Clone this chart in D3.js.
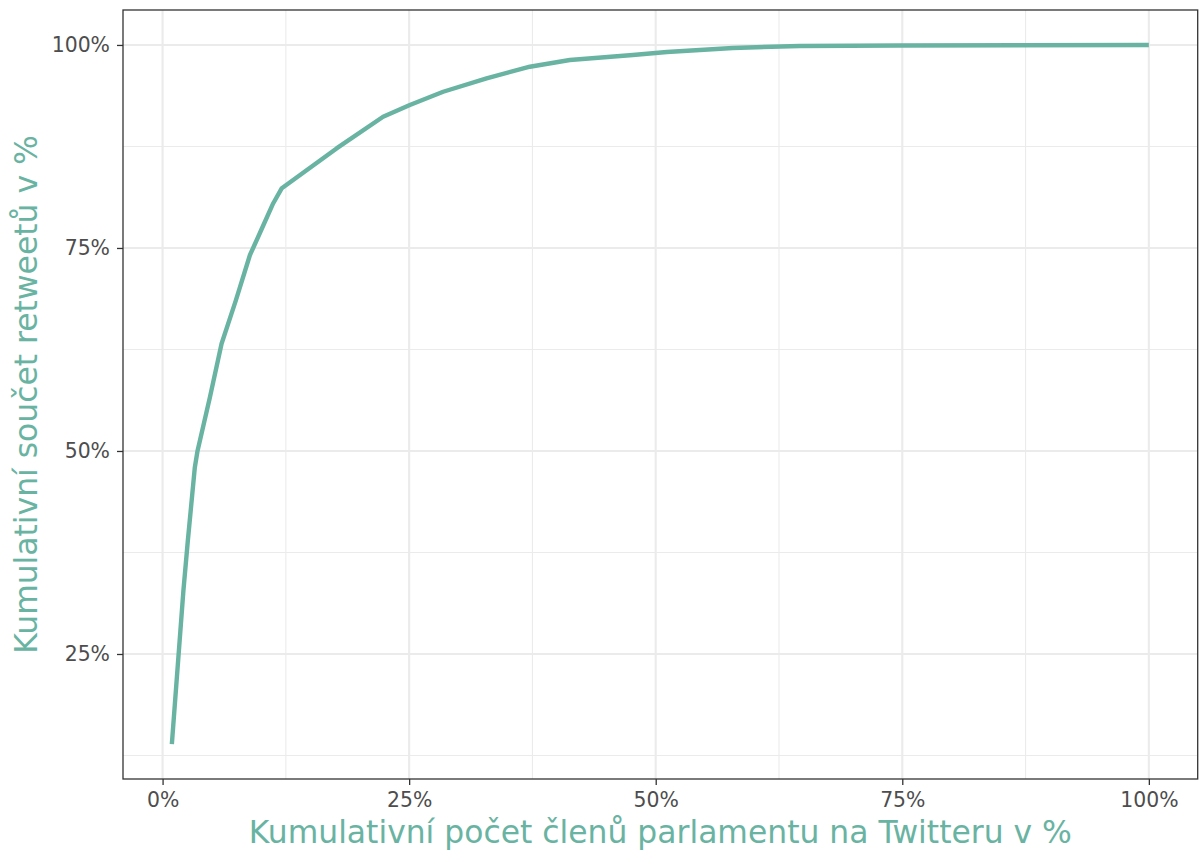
<!DOCTYPE html>
<html>
<head>
<meta charset="utf-8">
<script src="https://cdn.jsdelivr.net/npm/d3@7"></script>
<style>
  body { margin: 0; background: #fff; }
  svg { display: block; font-family: "DejaVu Sans", sans-serif; }
</style>
</head>
<body>
<div id="chart"></div>
<script>
// cumulative share of MPs (x, %) vs cumulative share of retweets (y, %)
const memberPct = [0.94, 2.11, 2.56, 3.27, 3.53, 4.80, 5.98, 7.43, 8.85, 10.07, 11.21, 12.09,
  17.64, 22.36, 25.07, 28.45, 32.85, 37.24, 41.29, 47.68, 51.13, 57.82, 64.60, 74.74, 100]
const retweetPct = [13.91, 32.78, 38.95, 47.99, 49.93, 56.62, 63.21, 68.55, 74.10, 77.40, 80.48, 82.36,
  87.26, 91.16, 92.60, 94.24, 95.89, 97.32, 98.15, 98.77, 99.14, 99.63, 99.88, 99.94, 100]

const xTicks = [0, 25, 50, 75, 100]
const yTicks = [25, 50, 75, 100]
const xMinor = [12.5, 37.5, 62.5, 87.5]
const yMinor = [12.5, 37.5, 62.5, 87.5]

const xTitle = "Kumulativní počet členů parlamentu na Twitteru v %"
const yTitle = "Kumulativní součet retweetů v %"

const data = memberPct.map((x, i) => ({ x: x, y: retweetPct[i] }))

const width = 1203
const height = 855
const margin = { top: 10, right: 5.3, bottom: 76, left: 123 }
const w = width - margin.left - margin.right
const h = height - margin.top - margin.bottom
const color = "#69b3a2"

// ggplot style 5% expansion
function expand(ext) {
  const pad = (ext[1] - ext[0]) * 0.05
  return [ext[0] - pad, ext[1] + pad]
}

const svg = d3.select("#chart").append("svg")
  .attr("width", width)
  .attr("height", height)

const g = svg.append("g")
  .attr("transform", "translate(" + margin.left + "," + margin.top + ")")

const x = d3.scaleLinear().domain(expand(d3.extent(data, d => d.x))).range([0, w])
const y = d3.scaleLinear().domain(expand(d3.extent(data, d => d.y))).range([h, 0])

// grid
g.append("g").selectAll("line").data(xMinor).join("line")
  .attr("x1", d => x(d)).attr("x2", d => x(d)).attr("y1", 0).attr("y2", h)
  .attr("stroke", "#ebebeb").attr("stroke-width", 1.1)
g.append("g").selectAll("line").data(yMinor).join("line")
  .attr("y1", d => y(d)).attr("y2", d => y(d)).attr("x1", 0).attr("x2", w)
  .attr("stroke", "#ebebeb").attr("stroke-width", 1.1)
g.append("g").selectAll("line").data(xTicks).join("line")
  .attr("x1", d => x(d)).attr("x2", d => x(d)).attr("y1", 0).attr("y2", h)
  .attr("stroke", "#ebebeb").attr("stroke-width", 2.1)
g.append("g").selectAll("line").data(yTicks).join("line")
  .attr("y1", d => y(d)).attr("y2", d => y(d)).attr("x1", 0).attr("x2", w)
  .attr("stroke", "#ebebeb").attr("stroke-width", 2.1)

// the curve
g.append("path")
  .datum(data)
  .attr("fill", "none")
  .attr("stroke", color)
  .attr("stroke-width", 4.4)
  .attr("stroke-linecap", "butt")
  .attr("stroke-linejoin", "round")
  .attr("d", d3.line().x(d => x(d.x)).y(d => y(d.y)))

// panel border
g.append("rect")
  .attr("width", w).attr("height", h)
  .attr("fill", "none").attr("stroke", "#333333").attr("stroke-width", 1.3)

// axes
const xAxis = g.append("g")
  .attr("transform", "translate(0," + h + ")")
  .call(d3.axisBottom(x).tickValues(xTicks).tickFormat(d => d + "%").tickSize(6).tickPadding(8))
const yAxis = g.append("g")
  .call(d3.axisLeft(y).tickValues(yTicks).tickFormat(d => d + "%").tickSize(6).tickPadding(7))

for (const ax of [xAxis, yAxis]) {
  ax.select(".domain").remove()
  ax.selectAll(".tick line").attr("stroke", "#333333").attr("stroke-width", 1.3)
  ax.selectAll(".tick text")
    .attr("fill", "#4d4d4d")
    .style("font-size", "20.4px")
    .style("font-family", "DejaVu Sans, sans-serif")
}

// titles
svg.append("text")
  .attr("x", margin.left + w / 2)
  .attr("y", 842.5)
  .attr("text-anchor", "middle")
  .attr("fill", color)
  .style("font-size", "31.4px")
  .text(xTitle)

svg.append("text")
  .attr("transform", "translate(37," + (margin.top + h / 2) + ") rotate(-90)")
  .attr("text-anchor", "middle")
  .attr("fill", color)
  .style("font-size", "31.4px")
  .text(yTitle)
</script>
</body>
</html>
